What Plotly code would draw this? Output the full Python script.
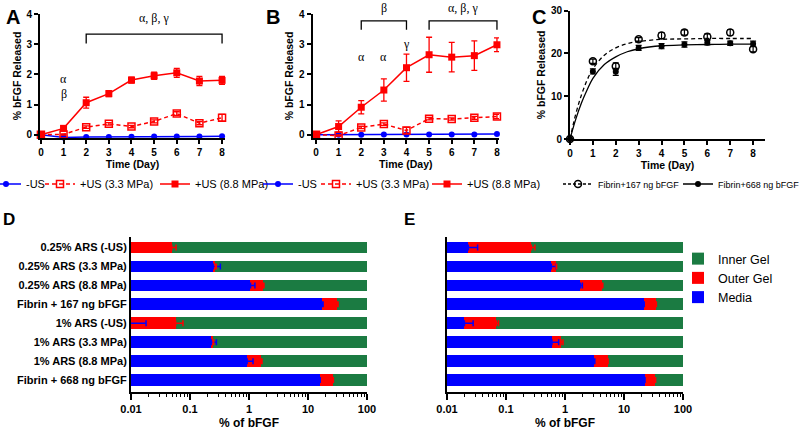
import plotly.graph_objects as go

W, H = 800, 434

DAYS = [0, 1, 2, 3, 4, 5, 6, 7, 8]

# Panel A: 0.25% ARS
A_NO_US = [0, -0.09, -0.08, -0.08, -0.07, -0.06, -0.06, -0.06, -0.05]
A_LOW = [0, 0.01, 0.25, 0.36, 0.27, 0.44, 0.70, 0.38, 0.56]
A_LOW_ERR = [0, 0.02, 0.04, 0.04, 0.04, 0.05, 0.06, 0.05, 0.11]
A_HIGH = [0, 0.21, 1.06, 1.36, 1.81, 1.95, 2.05, 1.78, 1.80]
A_HIGH_ERR = [0, 0.08, 0.18, 0.10, 0.10, 0.12, 0.15, 0.15, 0.13]

# Panel B: 1% ARS
B_NO_US = [0, 0.0, 0.0, 0.01, 0.01, 0.01, 0.01, 0.01, 0.02]
B_LOW = [0, -0.03, 0.24, 0.35, 0.14, 0.53, 0.52, 0.56, 0.60]
B_LOW_ERR = [0, 0.02, 0.04, 0.04, 0.10, 0.04, 0.04, 0.05, 0.07]
B_HIGH = [0, 0.27, 0.91, 1.48, 2.22, 2.65, 2.57, 2.62, 2.98]
B_HIGH_ERR = [0, 0.19, 0.22, 0.37, 0.45, 0.58, 0.49, 0.49, 0.23]

# Panel C: fibrin controls
C_LOW = [0, 18.2, 17.0, 23.3, 24.2, 24.9, 23.9, 24.9, 21.0]
C_LOW_ERR = [0, 0.5, 0.8, 0.4, 0.7, 0.6, 0.7, 0.7, 0.6]
C_HIGH = [0, 15.8, 15.7, 21.3, 21.7, 22.1, 22.5, 22.4, 22.3]
C_HIGH_ERR = [0, 0.6, 0.8, 0.6, 0.6, 0.6, 0.5, 0.5, 0.6]
FIT_X = [0, 0.25, 0.5, 0.75, 1, 1.5, 2, 2.5, 3, 4, 5, 6, 7, 8]
FIT_LOW = [0, 5.8, 10.3, 13.8, 16.4, 19.6, 21.3, 22.3, 22.8, 23.3, 23.4, 23.5, 23.5, 23.5]
FIT_HIGH = [0, 4.6, 8.4, 11.5, 14.2, 17.4, 19.2, 20.4, 21.1, 21.8, 22.0, 22.1, 22.2, 22.2]

# Panels D/E: where the bFGF ended up
GROUPS = ["0.25% ARS (-US)", "0.25% ARS (3.3 MPa)", "0.25% ARS (8.8 MPa)",
          "Fibrin + 167 ng bFGF", "1% ARS (-US)", "1% ARS (3.3 MPa)",
          "1% ARS (8.8 MPa)", "Fibrin + 668 ng bFGF"]
D_MEDIA = [0.004, 0.247, 1.06, 17.5, 0.006, 0.23, 0.93, 15.8]
D_MEDIA_ERR = [0, 0.08, 0.2, 0.5, 0.012, 0.05, 0.24, 0.3]
D_OUTER = [0.045, 0.023, 0.68, 14.0, 0.051, 0.017, 0.68, 10.8]
D_OUTER_ERR = [0.009, 0.01, 0.05, 0.8, 0.019, 0.005, 0.05, 0.3]
E_MEDIA = [0.023, 0.586, 1.82, 21.5, 0.0197, 0.60, 3.06, 22.4]
E_MEDIA_ERR = [0.010, 0.12, 0.15, 0.5, 0.008, 0.18, 0.14, 0.3]
E_OUTER = [0.246, 0.124, 2.35, 13.3, 0.049, 0.255, 2.22, 11.6]
E_OUTER_ERR = [0.04, 0.01, 0.2, 0.6, 0.006, 0.07, 0.1, 0.3]

BLUE, RED, GREEN = "#0000ff", "#ff0000", "#1b7b42"
SANS = "Arial, Liberation Sans, sans-serif"
SERIF = "Times New Roman, Liberation Serif, serif"


def dom_x(left, right):
    return [left / W, right / W]


def dom_y(top, bottom):
    return [1 - bottom / H, 1 - top / H]


def axis_style(**kw):
    base = dict(
        showline=True, linecolor="black", linewidth=2, ticks="outside",
        ticklen=4, tickwidth=1.5, tickcolor="black", showgrid=False, zeroline=False,
        tickfont=dict(family=SANS, size=10, color="black", weight="bold"),
        title_font=dict(family=SANS, size=10.5, color="black", weight="bold"),
    )
    base.update(kw)
    return base


def legend_box(text_px, y_px, size=11):
    # plotly puts the entry text ~40px right of the legend's left edge
    return dict(orientation="h", x=(text_px - 40) / W, y=1 - y_px / H,
                xanchor="left", yanchor="middle", bgcolor="rgba(0,0,0,0)",
                font=dict(family=SANS, size=size, color="black"))


fig = go.Figure()


def release_traces(xa, ya, legends, no_us, low, low_err, high, high_err):
    fig.add_trace(go.Scatter(
        x=DAYS, y=no_us, name="-US", mode="lines+markers", xaxis=xa, yaxis=ya,
        legend=legends[0], line=dict(color=BLUE, width=1.5),
        marker=dict(symbol="circle", size=6, color=BLUE), cliponaxis=False))
    fig.add_trace(go.Scatter(
        x=DAYS, y=low, name="+US (3.3 MPa)", mode="lines+markers", xaxis=xa, yaxis=ya,
        legend=legends[1], line=dict(color=RED, width=1.5, dash="4px,3px"),
        marker=dict(symbol="square-open", size=7, color=RED, line=dict(width=1.5)),
        error_y=dict(type="data", array=low_err, color=RED, thickness=1.3, width=3),
        cliponaxis=False))
    fig.add_trace(go.Scatter(
        x=DAYS, y=high, name="+US (8.8 MPa)", mode="lines+markers", xaxis=xa, yaxis=ya,
        legend=legends[2], line=dict(color=RED, width=1.5),
        marker=dict(symbol="square", size=7, color=RED),
        error_y=dict(type="data", array=high_err, color=RED, thickness=1.3, width=3),
        cliponaxis=False))


release_traces("x", "y", ["legend", "legend2", "legend3"],
               A_NO_US, A_LOW, A_LOW_ERR, A_HIGH, A_HIGH_ERR)
release_traces("x2", "y2", ["legend4", "legend5", "legend6"],
               B_NO_US, B_LOW, B_LOW_ERR, B_HIGH, B_HIGH_ERR)

# Panel C
fig.add_trace(go.Scatter(x=FIT_X, y=FIT_LOW, mode="lines", xaxis="x3", yaxis="y3",
                         line=dict(color="black", width=1.3, dash="4px,3px", shape="spline"),
                         showlegend=False))
fig.add_trace(go.Scatter(x=FIT_X, y=FIT_HIGH, mode="lines", xaxis="x3", yaxis="y3",
                         line=dict(color="black", width=1.3, shape="spline"),
                         showlegend=False))
fig.add_trace(go.Scatter(x=DAYS, y=C_LOW, mode="markers", xaxis="x3", yaxis="y3",
                         marker=dict(symbol="circle-open", size=7, color="black", line=dict(width=1.5)),
                         error_y=dict(type="data", array=C_LOW_ERR, color="black", thickness=1.2, width=3),
                         showlegend=False, cliponaxis=False))
fig.add_trace(go.Scatter(x=DAYS, y=C_HIGH, mode="markers", xaxis="x3", yaxis="y3",
                         marker=dict(symbol="circle", size=6, color="black"),
                         error_y=dict(type="data", array=C_HIGH_ERR, color="black", thickness=1.2, width=3),
                         showlegend=False, cliponaxis=False))
# legend-only entries so the key shows line + marker like the fitted curves
fig.add_trace(go.Scatter(x=[None], y=[None], mode="lines+markers", name="Fibrin+167 ng bFGF",
                         xaxis="x3", yaxis="y3", legend="legend7",
                         line=dict(color="black", width=1.3, dash="3px,2px"),
                         marker=dict(symbol="circle-open", size=7, color="black", line=dict(width=1.5))))
fig.add_trace(go.Scatter(x=[None], y=[None], mode="lines+markers", name="Fibrin+668 ng bFGF",
                         xaxis="x3", yaxis="y3", legend="legend8",
                         line=dict(color="black", width=1.3),
                         marker=dict(symbol="circle", size=6, color="black")))


def stacked_bars(xa, ya, media, media_err, outer, outer_err, show):
    inner = [100 - m - o for m, o in zip(media, outer)]
    for name, vals, color in [("Media", media, BLUE), ("Outer Gel", outer, RED),
                              ("Inner Gel", inner, GREEN)]:
        fig.add_trace(go.Bar(
            y=GROUPS, x=vals, name=name, orientation="h", xaxis=xa, yaxis=ya,
            marker=dict(color=color, line=dict(width=0)), legend="legend9",
            legendgroup=name, showlegend=show))
    # error bars drawn on top, at the end of each stacked segment
    stack_top = [m + o for m, o in zip(media, outer)]
    for ends, err, color in [(media, media_err, BLUE), (stack_top, outer_err, RED)]:
        fig.add_trace(go.Scatter(
            y=GROUPS, x=ends, mode="markers", xaxis=xa, yaxis=ya, showlegend=False,
            marker=dict(size=1, color="rgba(0,0,0,0)"), hoverinfo="skip",
            error_x=dict(type="data", array=err, arrayminus=[0] * len(err), symmetric=False,
                         color=color, thickness=1.5, width=3)))


stacked_bars("x4", "y4", D_MEDIA, D_MEDIA_ERR, D_OUTER, D_OUTER_ERR, True)
stacked_bars("x5", "y5", E_MEDIA, E_MEDIA_ERR, E_OUTER, E_OUTER_ERR, False)

top_dom = dom_y(14, 138)
bar_dom = dom_y(237, 392)
log_x = dict(type="log", range=[-2, 2], dtick=1, ticklen=6,
             minor=dict(ticks="outside", dtick="D1", ticklen=3, tickwidth=1.2,
                        tickcolor="black", showgrid=False),
             title=dict(text="% of bFGF", standoff=4, font=dict(size=12)),
             tickfont=dict(family=SANS, size=11, color="black", weight="bold"))
cat_y = dict(categoryorder="array", categoryarray=GROUPS, range=[7.63, -0.555], ticks="",
             tickfont=dict(family=SANS, size=11, color="black", weight="bold"))

fig.update_layout(
    width=W, height=H, margin=dict(l=0, r=0, t=0, b=0, autoexpand=False),
    plot_bgcolor="white", paper_bgcolor="white",
    barmode="stack", bargap=0.38,
    xaxis=axis_style(domain=dom_x(40, 225), range=[-0.04, 8.13], dtick=1,
                     title=dict(text="Time (Day)", standoff=4), anchor="y"),
    yaxis=axis_style(domain=top_dom, range=[-0.11, 4], dtick=1,
                     title=dict(text="% bFGF Released", standoff=3), anchor="x"),
    xaxis2=axis_style(domain=dom_x(312.6, 499), range=[-0.15, 8.09], dtick=1,
                      title=dict(text="Time (Day)", standoff=4), anchor="y2"),
    yaxis2=axis_style(domain=top_dom, range=[-0.11, 4], dtick=1,
                      title=dict(text="% bFGF Released", standoff=3), anchor="x2"),
    xaxis3=axis_style(domain=dom_x(570, 765), range=[0, 8.52], dtick=1,
                      title=dict(text="Time (Day)", standoff=4), anchor="y3"),
    yaxis3=axis_style(domain=dom_y(10.7, 139), range=[0, 30], dtick=10,
                      title=dict(text="% bFGF Released", standoff=3), anchor="x3"),
    xaxis4=axis_style(domain=dom_x(131, 367), anchor="y4", **log_x),
    yaxis4=axis_style(domain=bar_dom, anchor="x4", **cat_y),
    xaxis5=axis_style(domain=dom_x(447, 683), anchor="y5", **log_x),
    yaxis5=axis_style(domain=bar_dom, anchor="x5", showticklabels=False,
                      **{k: v for k, v in cat_y.items() if k != "tickfont"}),
    legend=legend_box(26, 184),
    legend2=legend_box(80, 184),
    legend3=legend_box(195, 184),
    legend4=legend_box(298, 184),
    legend5=legend_box(356, 184),
    legend6=legend_box(467, 184),
    legend7=legend_box(598, 184, size=9),
    legend8=legend_box(718, 184, size=9),
    legend9=dict(orientation="v", x=678 / W, y=1 - 244 / H, yanchor="top", xanchor="left",
                 traceorder="reversed", font=dict(family=SANS, size=12.5, color="black"),
                 bgcolor="rgba(0,0,0,0)", tracegroupgap=10),
)

# panel letters
for letter, px, py, size in [("A", 13, 17, 20), ("B", 273, 17, 20), ("C", 539, 17, 20),
                             ("D", 9, 219, 17), ("E", 409, 219, 17)]:
    fig.add_annotation(text=letter, x=px / W, y=1 - py / H, xref="paper", yref="paper",
                       xanchor="center", yanchor="middle", showarrow=False,
                       font=dict(family=SANS, size=size, color="black", weight="bold"))

# significance marks (letters above the axis top use the domain reference)
greek = dict(family=SERIF, size=12, color="black")
for xa, ya, x, y, txt in [("x", "y", 1, 1.84, "α"), ("x", "y", 1, 1.36, "β"),
                          ("x", "y", 5, 3.87, "α, β, γ"),
                          ("x2", "y2", 2, 2.58, "α"), ("x2", "y2", 3, 2.58, "α"),
                          ("x2", "y2", 4, 3.02, "γ"),
                          ("x2", "y2 domain", 3, 1.045, "β"),
                          ("x2", "y2 domain", 6.5, 1.045, "α, β, γ")]:
    fig.add_annotation(text=txt, x=x, y=y, xref=xa, yref=ya, xanchor="center",
                       yanchor="middle", showarrow=False, font=greek)

for xa, ya, x0, x1, y_top, y_low in [("x", "y", 2, 8, 3.33, 3.02),
                                     ("x2", "y2", 2, 4, 3.77, 3.48),
                                     ("x2", "y2", 5, 8, 3.77, 3.48)]:
    fig.add_shape(type="path", xref=xa, yref=ya,
                  path=f"M {x0},{y_low} L {x0},{y_top} L {x1},{y_top} L {x1},{y_low}",
                  line=dict(color="black", width=1.3))

# the page body has a default 8px margin; drop it so the figure fills the window
fig.write_html("out.html", config={"displayModeBar": False},
               post_script="document.body.style.margin = '0';")
